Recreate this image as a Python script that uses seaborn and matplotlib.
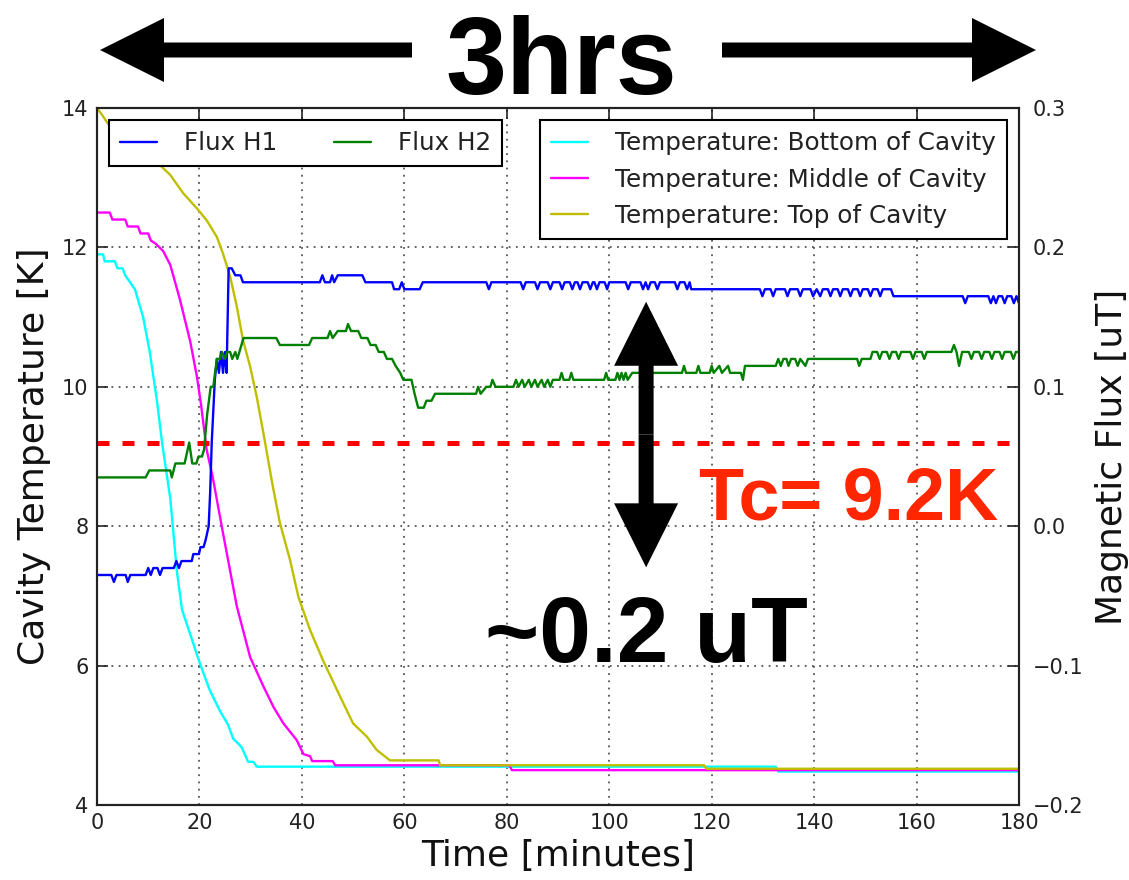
import numpy as np
import pandas as pd
import matplotlib
matplotlib.use("Agg")
import matplotlib.pyplot as plt
from matplotlib.patches import FancyArrow
from matplotlib.transforms import IdentityTransform
import seaborn as sns

# ---------------- data ----------------
# Temperatures [K] vs time [minutes]
BOTTOM_MIN = [0, 1.2, 1.5, 3.5, 4.0, 5.0, 5.5, 7.4, 9.0, 10.3, 11.7, 12.7, 14.3, 15.6, 16.6,
              18.2, 20.0, 22.0, 24.0, 25.6, 26.6, 27.6, 28.3, 29.5, 30.5, 31.2, 132.5, 133.0, 180]
BOTTOM_K = [11.9, 11.9, 11.8, 11.8, 11.7, 11.7, 11.6, 11.4, 11.0, 10.5, 9.8, 9.2, 8.4, 7.35, 6.8,
            6.45, 6.05, 5.65, 5.35, 5.15, 4.95, 4.88, 4.82, 4.62, 4.62, 4.55, 4.55, 4.48, 4.48]

MIDDLE_MIN = [0, 2.5, 3.0, 5.5, 6.0, 8.0, 8.5, 10.0, 10.5, 11.5, 12.9, 14.3, 16.2, 18.2, 19.5,
              20.3, 21.4, 22.6, 24.6, 27.3, 29.9, 32.5, 34.5, 36.4, 39.0, 40.3, 41.6, 42.0, 46.0,
              46.5, 80.5, 81.0, 180]
MIDDLE_K = [12.5, 12.5, 12.4, 12.4, 12.3, 12.3, 12.2, 12.2, 12.1, 12.05, 11.95, 11.75, 11.25, 10.65,
            10.15, 9.75, 9.1, 8.7, 7.9, 6.85, 6.12, 5.7, 5.4, 5.17, 4.93, 4.73, 4.7, 4.63, 4.63,
            4.57, 4.57, 4.5, 4.5]

TOP_MIN = [0, 1.0, 1.9, 4.0, 7.0, 10.0, 12.3, 14.3, 16.8, 19.5, 21.4, 23.4, 24.6, 26.0, 27.3,
           28.5, 29.9, 31.2, 32.5, 34.2, 35.7, 37.7, 39.3, 41.6, 44.1, 47.5, 50.0, 52.7, 54.6,
           57.2, 66.7, 67.0, 118.5, 119.0, 180]
TOP_K = [14.0, 13.9, 13.8, 13.6, 13.4, 13.25, 13.18, 13.04, 12.78, 12.56, 12.39, 12.15, 11.91,
         11.58, 11.15, 10.67, 10.29, 9.85, 9.33, 8.62, 8.05, 7.51, 6.99, 6.51, 6.08, 5.55, 5.17,
         4.98, 4.79, 4.64, 4.64, 4.57, 4.57, 4.52, 4.52]

# Magnetic flux [uT] vs time [minutes]
H1_MIN = [0, 2.8, 3.3, 3.8, 5.6, 6.0, 6.5, 9.5, 10.0, 10.5, 11.0, 11.8, 12.3, 12.8, 15.0, 15.5,
          16.0, 16.5, 18.5, 18.8, 19.9, 20.2, 20.8, 21.2, 21.8, 22.1, 22.4, 23.0, 23.4, 23.8,
          24.2, 24.6, 25.0, 25.3, 25.7, 26.3, 27.0, 28.0, 28.5, 43.5, 44.0, 44.5, 45.5, 45.9,
          46.3, 47.0, 51.8, 52.4, 57.6, 58.0, 59.0, 59.5, 60.0, 63.0, 63.6, 76.0, 76.5, 77.0,
          82.7, 83.2, 83.7, 85.5, 86.0, 86.5, 88.0, 88.5, 89.0, 90.3, 90.8, 91.3, 92.3, 92.8,
          93.3, 93.8, 94.3, 94.8, 95.8, 96.3, 96.8, 97.1, 97.6, 98.1, 99.1, 99.6, 100.0,
          103.2, 103.7, 104.2, 106.1, 106.6, 107.1, 107.6, 108.1, 108.9, 109.4, 109.9, 112.8,
          113.3, 113.8, 114.7, 115.2, 115.7, 116.0, 129.4, 129.9, 130.4, 131.5, 132.0, 132.5,
          134.3, 134.8, 135.3, 136.8, 137.3, 137.8, 139.3, 139.8, 140.5, 141.2, 141.7, 142.7,
          143.2, 143.7, 144.6, 145.1, 145.6, 146.6, 147.1, 147.6, 148.5, 149.0, 149.5, 150.5,
          151.0, 151.5, 152.4, 152.9, 153.4, 155.0, 155.5, 169.0, 169.5, 170.0, 174.0, 174.5,
          175.0, 175.5, 176.0, 176.7, 177.2, 177.7, 178.5, 179.0, 179.5, 180.0]
H1_UT = [-0.035, -0.035, -0.04, -0.035, -0.035, -0.04, -0.035, -0.035, -0.03, -0.035, -0.03,
         -0.03, -0.035, -0.03, -0.03, -0.025, -0.03, -0.025, -0.025, -0.02, -0.02, -0.015,
         -0.015, -0.01, 0.0, 0.025, 0.06, 0.105, 0.12, 0.11, 0.125, 0.11, 0.125, 0.11, 0.185,
         0.185, 0.18, 0.18, 0.175, 0.175, 0.18, 0.175, 0.175, 0.18, 0.175, 0.18, 0.18, 0.175,
         0.175, 0.17, 0.17, 0.175, 0.17, 0.17, 0.175, 0.175, 0.17, 0.175,
         0.175, 0.17, 0.175, 0.175, 0.17, 0.175, 0.175, 0.17, 0.175, 0.175, 0.17, 0.175, 0.175,
         0.17, 0.175, 0.175, 0.17, 0.175, 0.175, 0.17, 0.175, 0.175, 0.17, 0.175, 0.175, 0.17,
         0.175, 0.175, 0.17, 0.175, 0.175, 0.17, 0.175, 0.17, 0.175, 0.175, 0.17, 0.175, 0.175,
         0.17, 0.175, 0.175, 0.17, 0.175, 0.17, 0.17, 0.165, 0.17, 0.17, 0.165, 0.17,
         0.17, 0.165, 0.17, 0.17, 0.165, 0.17, 0.17, 0.165, 0.17, 0.165, 0.17, 0.17,
         0.165, 0.17, 0.17, 0.165, 0.17, 0.17, 0.165, 0.17, 0.17, 0.165, 0.17, 0.17,
         0.165, 0.17, 0.17, 0.165, 0.17, 0.17, 0.165, 0.165, 0.16, 0.165, 0.165, 0.16,
         0.165, 0.16, 0.165, 0.165, 0.16, 0.165, 0.165, 0.16, 0.165, 0.16]

H2_MIN = [0, 9.5, 10.2, 14.3, 14.6, 15.3, 17.1, 18.0, 18.6, 19.4, 19.8, 20.5, 20.9, 21.5, 22.2,
          22.7, 23.4, 24.0, 24.4, 25.0, 25.4, 26.0, 26.4, 27.0, 27.4, 28.6, 35.0, 35.7, 41.4,
          42.0, 45.0, 45.5, 46.0, 47.0, 48.6, 49.0, 49.6, 51.0, 51.6, 52.8, 53.4, 54.4, 55.0,
          56.0, 56.6, 57.6, 58.3, 59.2, 59.8, 61.4, 62.0, 62.7, 63.8, 64.3, 65.3, 66.0, 74.0,
          74.4, 74.9, 76.0, 76.8, 77.2, 77.8, 81.3, 81.8, 82.3, 83.0, 83.5, 84.3, 84.8, 85.5,
          86.0, 86.8, 87.3, 88.0, 88.5, 89.0, 90.3, 90.7, 91.1, 92.2, 92.6, 93.0, 99.0, 99.4,
          99.8, 101.2, 101.6, 102.0, 102.4, 102.8, 103.2, 103.6, 104.5, 114.2, 114.6, 115.0,
          117.0, 117.4, 117.8, 119.6, 120.0, 120.4, 121.5, 122.0, 123.2, 123.6, 125.7, 126.1,
          126.5, 132.5, 133.0, 133.5, 134.0, 134.6, 135.0, 135.5, 136.3, 136.8, 137.3, 138.3,
          138.8, 148.4, 148.8, 149.3, 151.0, 151.4, 152.3, 152.8, 153.3, 154.2, 154.7, 155.2,
          156.0, 156.5, 157.0, 158.8, 159.3, 159.8, 161.0, 161.5, 162.0, 166.8, 167.3, 167.8,
          168.3, 168.9, 170.2, 170.7, 171.2, 172.2, 172.7, 173.2, 174.2, 174.7, 175.2, 176.2,
          176.7, 177.2, 178.4, 178.9, 179.4, 180.0]
H2_UT = [0.035, 0.035, 0.04, 0.04, 0.035, 0.045, 0.045, 0.06, 0.045, 0.045, 0.05, 0.05, 0.055,
         0.08, 0.1, 0.1, 0.12, 0.12, 0.125, 0.12, 0.125, 0.125, 0.12, 0.125, 0.12, 0.135, 0.135,
         0.13, 0.13, 0.135, 0.135, 0.14, 0.135, 0.14, 0.14, 0.145, 0.14, 0.14, 0.135, 0.135,
         0.13, 0.13, 0.125, 0.125, 0.12, 0.12, 0.115, 0.11, 0.105, 0.105, 0.095, 0.085, 0.085,
         0.09, 0.09, 0.095, 0.095, 0.1, 0.095, 0.1, 0.1, 0.105, 0.1, 0.1, 0.105, 0.1, 0.105,
         0.1, 0.105, 0.1, 0.105, 0.1, 0.105, 0.1, 0.105, 0.1, 0.105, 0.105, 0.11, 0.105, 0.105,
         0.11, 0.105, 0.105, 0.11, 0.105, 0.105, 0.11, 0.105, 0.11, 0.105, 0.11, 0.105, 0.11,
         0.11, 0.115, 0.11, 0.11, 0.115, 0.11, 0.11, 0.115, 0.11, 0.115, 0.11, 0.115, 0.11,
         0.11, 0.105, 0.115, 0.115, 0.12, 0.115, 0.12, 0.12, 0.115, 0.12, 0.12, 0.115, 0.12,
         0.115, 0.12, 0.12, 0.115, 0.12, 0.12, 0.125, 0.125, 0.12, 0.125, 0.125, 0.12, 0.125,
         0.125, 0.12, 0.125, 0.125, 0.12, 0.125, 0.125, 0.12, 0.125, 0.125, 0.13, 0.125,
         0.115, 0.125, 0.125, 0.12, 0.125, 0.125, 0.12, 0.125, 0.125, 0.12, 0.125, 0.125,
         0.12, 0.125, 0.125, 0.12, 0.125, 0.125]

TC_K = 9.2
LABELS_T = ["Temperature: Bottom of Cavity", "Temperature: Middle of Cavity",
            "Temperature: Top of Cavity"]
LABELS_F = ["Flux H1", "Flux H2"]
X_TICKS = [0, 20, 40, 60, 80, 100, 120, 140, 160, 180]
Y_TICKS = [4, 6, 8, 10, 12, 14]
Y2_TICKS = [-0.2, -0.1, 0.0, 0.1, 0.2, 0.3]

# ---------------- style ----------------
sns.set_theme(style="white")
plt.rcParams["font.family"] = ["DejaVu Sans"]
plt.rcParams["axes.edgecolor"] = "#222222"
plt.rcParams["axes.linewidth"] = 1.5

W, H = 1129, 880
fig = plt.figure(figsize=(W / 100, H / 100), dpi=100)
ax = fig.add_axes([97 / W, 75 / H, 922 / W, 697 / H])
ax2 = ax.twinx()

def frame(xs, ys, name):
    return pd.DataFrame({"minutes": xs, name: ys})

series_T = [(BOTTOM_MIN, BOTTOM_K, "#00ffff"), (MIDDLE_MIN, MIDDLE_K, "#ff00ff"),
            (TOP_MIN, TOP_K, "#bfbf00")]
for (xs, ys, col), lab in zip(series_T, LABELS_T):
    sns.lineplot(data=frame(xs, ys, "K"), x="minutes", y="K", ax=ax, color=col, lw=1.7,
                 estimator=None, sort=False, label=lab, legend=False)

series_F = [(H1_MIN, H1_UT, "#0000ff"), (H2_MIN, H2_UT, "#008000")]
for (xs, ys, col), lab in zip(series_F, LABELS_F):
    sns.lineplot(data=frame(xs, ys, "uT"), x="minutes", y="uT", ax=ax2, color=col, lw=1.7,
                 estimator=None, sort=False, label=lab, legend=False)

ax.axhline(TC_K, color="#ff0000", lw=3.6, ls=(0, (2.4, 2.6)), zorder=5)

ax.set_xlim(0, 180)
ax.set_ylim(4, 14)
ax2.set_ylim(-0.2, 0.3)
ax.set_xticks(X_TICKS)
ax.set_yticks(Y_TICKS)
ax2.set_yticks(Y2_TICKS)
ax.set_xticklabels([str(v) for v in X_TICKS])
ax.set_yticklabels([str(v) for v in Y_TICKS])
ax2.set_yticklabels([f"{v:.1f}".replace("-", "\u2212") for v in Y2_TICKS])

ax.grid(True, color="#555555", ls=(0, (1.0, 3.0)), lw=1.3)
ax.tick_params(direction="in", length=8, width=1.2, top=True, right=False,
               labelsize=15, pad=6, colors="#222222")
ax2.tick_params(direction="in", length=8, width=1.2, labelsize=15, pad=10, colors="#222222")

ax.set_xlabel("Time [minutes]", fontsize=26, labelpad=4, color="#111111")
ax.set_ylabel("Cavity Temperature [K]", fontsize=26, labelpad=8, color="#111111")
ax2.set_ylabel("Magnetic Flux [uT]", fontsize=26, labelpad=8, color="#111111")

leg_kw = dict(fontsize=17.7, frameon=True, fancybox=False, edgecolor="black", framealpha=1,
              borderaxespad=0.5, handlelength=1.5, handletextpad=1.1, borderpad=0.45)
leg1 = ax.legend(loc="upper right", labelspacing=0.5, **leg_kw)
leg2 = ax2.legend(loc="upper left", ncol=2, columnspacing=2.3, **leg_kw)
for lg in (leg1, leg2):
    lg.get_frame().set_linewidth(1.5)
    for t in lg.get_texts():
        t.set_color("#222222")

# ---------------- annotations ----------------
BOLD = ["Liberation Sans", "DejaVu Sans"]
ax.text(75.8, 6.05, "~0.2 uT", fontsize=67, fontweight="bold", family=BOLD,
        ha="left", va="baseline", color="black", zorder=10)
ax.text(117.5, 8.10, "Tc= 9.2K", fontsize=53, fontweight="bold", family=BOLD,
        ha="left", va="baseline", color="#ff2600", zorder=10)
fig.text(561 / W, (H - 94) / H, "3hrs", fontsize=79, fontweight="bold", family=BOLD,
         ha="center", va="baseline", color="black")

def pix_arrow(x0, y0, x1, y1):
    a = FancyArrow(x0, y0, x1 - x0, y1 - y0, width=15, head_width=64, head_length=64,
                   length_includes_head=True, color="black", lw=0,
                   transform=IdentityTransform())
    fig.add_artist(a)

# vertical double arrow (data-anchored)
fig.canvas.draw()
ARROW_X, ARROW_TOP, ARROW_BOT = 107.2, 11.22, 7.41
(px, ptop) = ax.transData.transform((ARROW_X, ARROW_TOP))
(_, pbot) = ax.transData.transform((ARROW_X, ARROW_BOT))
pmid = (ptop + pbot) / 2
pix_arrow(px, pmid, px, ptop)
pix_arrow(px, pmid, px, pbot)

# top "3hrs" arrows (figure pixels)
ytop = H - 50
pix_arrow(412, ytop, 100, ytop)
pix_arrow(722, ytop, 1036, ytop)

fig.savefig("out.png", dpi=100)
